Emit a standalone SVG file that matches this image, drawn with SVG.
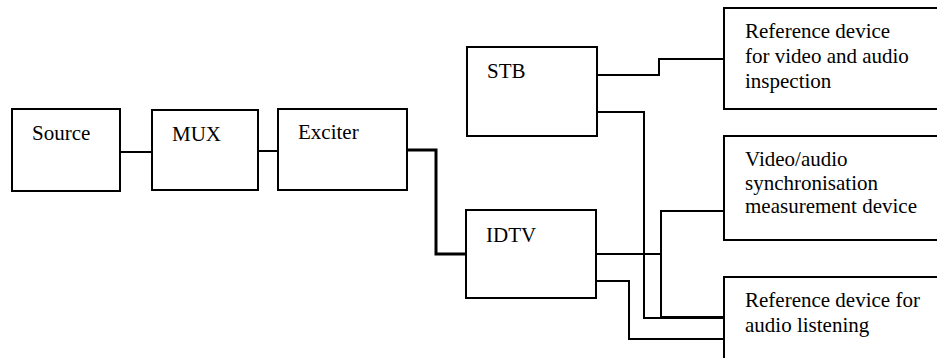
<svg xmlns="http://www.w3.org/2000/svg" width="937" height="358" viewBox="0 0 937 358">
<style>
.box{fill:#fff;stroke:#000;stroke-width:2}
.lbl{font-family:"Liberation Serif","Times New Roman",serif;font-size:21px;fill:#000}
.c{fill:none;stroke:#000;stroke-width:2}
.thick{fill:none;stroke:#000;stroke-width:3}
</style>
<rect width="937" height="358" fill="#fff"/>
<g id="connectors">
<line class="c" x1="120" y1="152" x2="152" y2="152"/>
<line class="c" x1="258" y1="151" x2="278" y2="151"/>
<polyline class="thick" points="407,150 436,150 436,254 466,254"/>
<polyline class="c" points="597,75 659,75 659,59 724,59"/>
<polyline class="c" points="597,112 644,112 644,318 725,318"/>
<polyline class="c" points="596,254 661,254"/>
<polyline class="c" points="724,211 661,211 661,317 725,317"/>
<polyline class="c" points="596,281 629,281 629,339 727,339"/>
</g>
<g id="source"><rect class="box" x="12" y="109" width="108" height="82"/><text class="lbl" x="32" y="140">Source</text></g>
<g id="mux"><rect class="box" x="152" y="110" width="106" height="80"/><text class="lbl" x="172" y="141">MUX</text></g>
<g id="exciter"><rect class="box" x="278" y="109" width="129" height="81"/><text class="lbl" x="298" y="139">Exciter</text></g>
<g id="stb"><rect class="box" x="467" y="47" width="130" height="89"/><text class="lbl" x="487" y="78">STB</text></g>
<g id="idtv"><rect class="box" x="466" y="210" width="130" height="88"/><text class="lbl" x="486" y="242">IDTV</text></g>
<g id="ref-video-audio"><rect class="box" x="724" y="8" width="240" height="101"/><text class="lbl" x="745" y="38">Reference device</text><text class="lbl" x="745" y="63">for video and audio</text><text class="lbl" x="745" y="88">inspection</text></g>
<g id="sync-measure"><rect class="box" x="724" y="136" width="240" height="104"/><text class="lbl" x="745" y="166">Video/audio</text><text class="lbl" x="745" y="190">synchronisation</text><text class="lbl" x="745" y="213">measurement device</text></g>
<g id="ref-audio"><rect class="box" x="724" y="277" width="240" height="100"/><text class="lbl" x="745" y="307">Reference device for</text><text class="lbl" x="745" y="332">audio listening</text></g>
</svg>
